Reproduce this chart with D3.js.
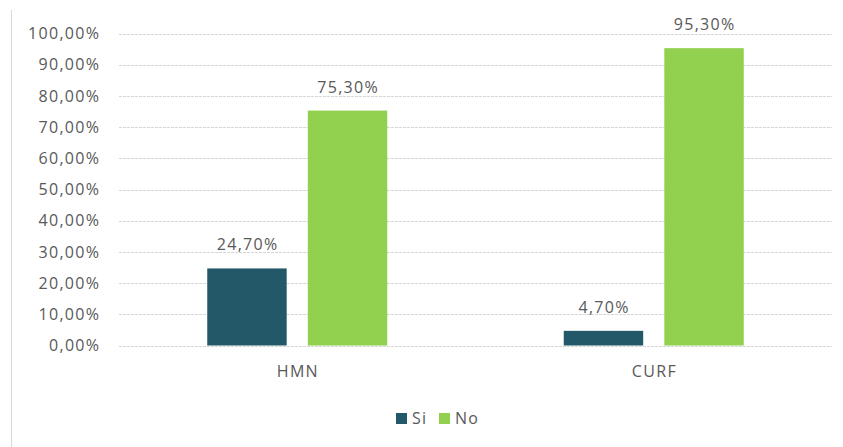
<!DOCTYPE html>
<html>
<head>
<meta charset="utf-8">
<script src="https://cdn.jsdelivr.net/npm/d3@7"></script>
<style>
  html, body { margin: 0; padding: 0; background: #fff; }
  svg { display: block; }
  text { font-family: "Open Sans", "Liberation Sans", sans-serif; fill: #595959; }
</style>
</head>
<body>
<svg id="chart" width="843" height="447"></svg>
<script>
// Chart data
const categories = ["HMN", "CURF"];
const seriesNames = ["Si", "No"];
const siValues = [24.7, 4.7];
const noValues = [75.3, 95.3];
const yTicks = [0, 10, 20, 30, 40, 50, 60, 70, 80, 90, 100];
const colors = { Si: "#235868", No: "#92D050" };

const svg = d3.select("#chart");
const W = 843, H = 447;
const margin = { left: 119, right: 11, top: 33.5, bottom: 101.5 };
const x0 = margin.left, x1 = W - margin.right;
const yTop = margin.top, yBot = H - margin.bottom;
const FS = 16, LS = 1.3;

const fmt = v => d3.format(".2f")(v).replace(".", ",") + "%";

// Left border of the chart area
svg.append("line")
  .attr("x1", 11.5).attr("x2", 11.5).attr("y1", 10).attr("y2", H)
  .attr("stroke", "#d9d9d9").attr("stroke-width", 1);

const x = d3.scaleBand().domain(categories).range([x0, x1]).paddingInner(0).paddingOuter(0);
const xs = d3.scaleBand().domain(seriesNames).range([0, 180]).paddingInner(0.21).paddingOuter(0);
const y = d3.scaleLinear().domain([0, 100]).range([yBot, yTop]);

// Gridlines
svg.append("g").selectAll("line").data(yTicks).join("line")
  .attr("x1", x0).attr("x2", x1)
  .attr("y1", d => Math.round(y(d)) + 0.5).attr("y2", d => Math.round(y(d)) + 0.5)
  .attr("stroke", "#d6d6d6").attr("stroke-width", 1).attr("stroke-dasharray", "3,1");

// Y axis labels
const yAxis = d3.axisLeft(y).tickValues(yTicks).tickFormat(fmt).tickSize(0).tickPadding(0);
const gy = svg.append("g").attr("transform", `translate(${99 + LS},0)`).call(yAxis);
gy.select(".domain").remove();
gy.selectAll("text").attr("font-size", FS).attr("fill", "#595959")
  .attr("letter-spacing", LS)
  .style("font-family", "'Open Sans', 'Liberation Sans', sans-serif");

// Bars
const rows = categories.map((c, i) => ({ cat: c, Si: siValues[i], No: noValues[i] }));
const groups = svg.append("g").selectAll("g").data(rows).join("g")
  .attr("transform", d => `translate(${x(d.cat) + x.bandwidth() / 2 - 90},0)`);

groups.selectAll("rect").data(d => seriesNames.map(s => ({ s, v: d[s] }))).join("rect")
  .attr("x", d => xs(d.s)).attr("width", xs.bandwidth())
  .attr("y", d => y(d.v)).attr("height", d => y(0) - y(d.v))
  .attr("fill", d => colors[d.s]);

// Value labels
groups.selectAll("text.val").data(d => seriesNames.map(s => ({ s, v: d[s] }))).join("text")
  .attr("class", "val")
  .attr("x", d => xs(d.s) + xs.bandwidth() / 2 + LS / 2)
  .attr("y", d => y(d.v) - 18)
  .attr("text-anchor", "middle").attr("font-size", FS).attr("letter-spacing", LS)
  .text(d => d3.format(".2f")(d.v).replace(".", ",") + "%");

// Category labels
svg.append("g").selectAll("text").data(categories).join("text")
  .attr("x", d => x(d) + x.bandwidth() / 2 + LS / 2).attr("y", 377)
  .attr("text-anchor", "middle").attr("font-size", FS).attr("letter-spacing", LS)
  .text(d => d);

// Legend
const legend = svg.append("g");
const legendItems = [{ s: "Si", x: 396 }, { s: "No", x: 439 }];
legendItems.forEach(it => {
  legend.append("rect").attr("x", it.x).attr("y", 413).attr("width", 11).attr("height", 11).attr("fill", colors[it.s]);
  legend.append("text").attr("x", it.x + 16).attr("y", 424).attr("font-size", FS).attr("letter-spacing", LS).text(it.s);
});
</script>
</body>
</html>
